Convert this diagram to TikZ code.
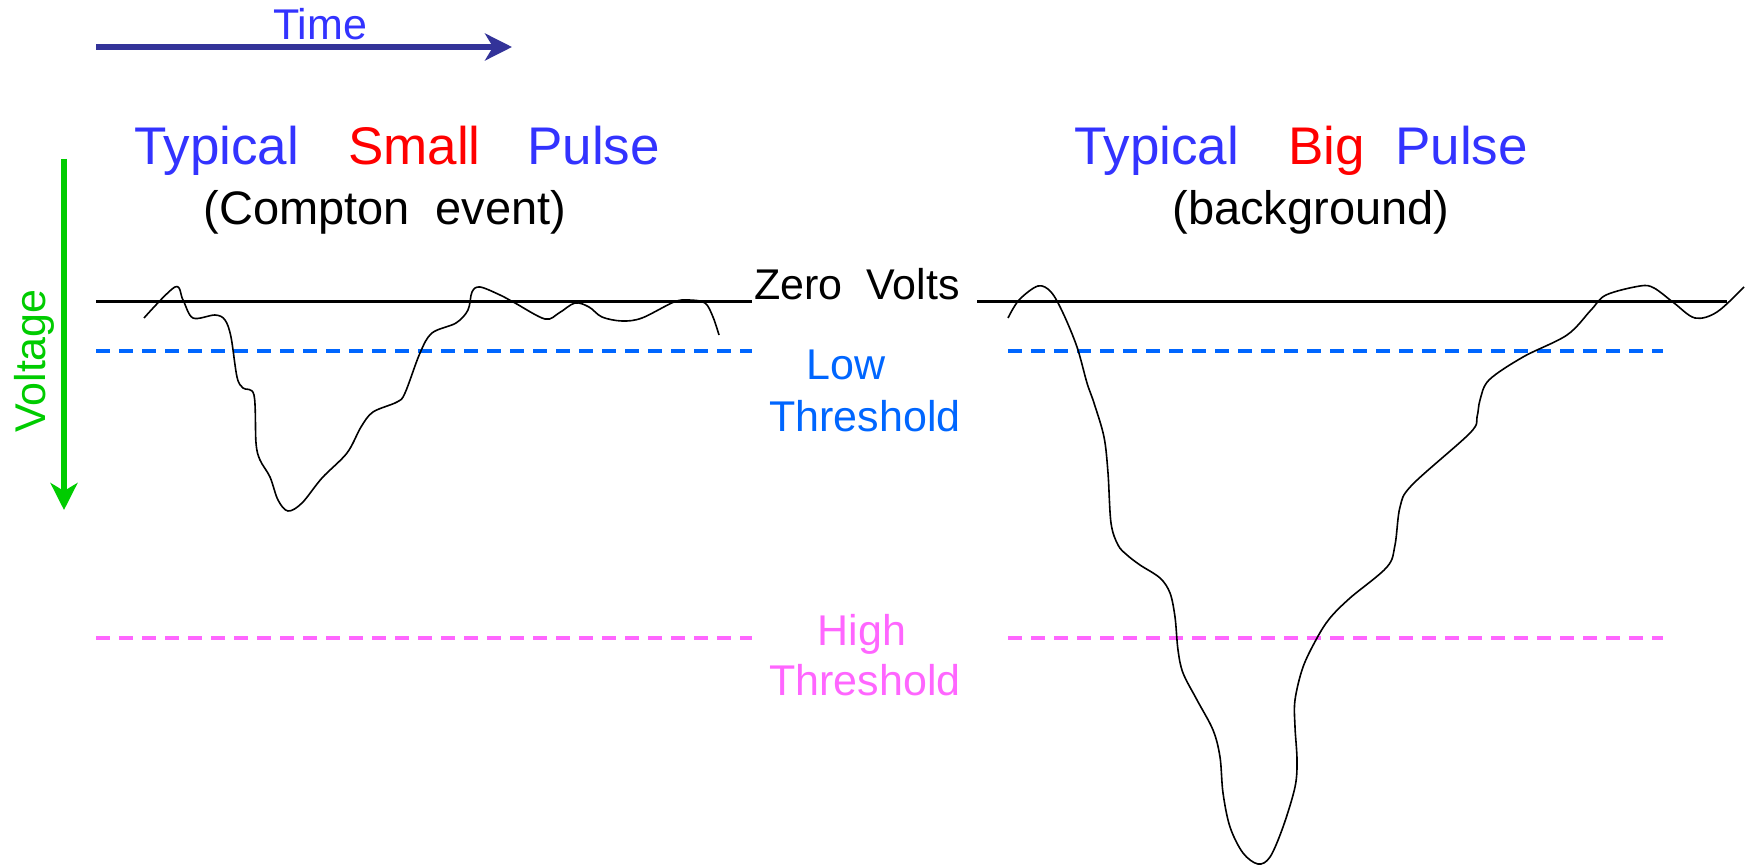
\documentclass[tikz,border=0pt]{standalone}
\usepackage{fontspec}
\setmainfont{Liberation Sans}
\usetikzlibrary{arrows.meta}

\definecolor{timeblue}{HTML}{333399}
\definecolor{textblue}{HTML}{3333FF}
\definecolor{titlered}{HTML}{FF0000}
\definecolor{voltgreen}{HTML}{00CC00}
\definecolor{lowblue}{HTML}{0066FF}
\definecolor{highpink}{HTML}{FF66FF}

\tikzset{
  title/.style={font=\fontsize{53}{60}\selectfont, inner sep=0pt, anchor=base west},
  subtitle/.style={font=\fontsize{47}{54}\selectfont, inner sep=0pt, anchor=base},
  label/.style={font=\fontsize{43}{50}\selectfont, inner sep=0pt},
  zeroline/.style={line width=3pt, black},
  threshold/.style={line width=4pt, dash pattern=on 14pt off 9pt},
  pulse/.style={line width=1.6pt, black, smooth, tension=0.55},
  axisarrow/.style={line width=6pt, -{Stealth[length=27pt, width=27pt, inset=8pt]}}
}

\begin{document}
\begin{tikzpicture}[x=1pt, y=-1pt]
\useasboundingbox (0,0) rectangle (1750,866);

% axes
\coordinate (t0) at (96,47);
\coordinate (t1) at (512,47);
\draw[axisarrow, timeblue] (t0) -- (t1);
\node[label, anchor=base, text=textblue] (time) at (320,40) {Time};

\coordinate (v0) at (64,159);
\coordinate (v1) at (64,510);
\draw[axisarrow, voltgreen] (v0) -- (v1);
\node[label, anchor=base, rotate=90, text=voltgreen] (voltage) at (45,361) {Voltage};

% titles
\node[title, text=textblue]  (tsl1) at (134,165) {Typical};
\node[title, text=titlered]  (tsl2) at (348,165) {Small};
\node[title, text=textblue]  (tsl3) at (527,165) {Pulse};
\node[subtitle] (ssl) at (385,225) {(Compton\ \ event)};

\node[title, text=textblue]  (tbg1) at (1074,165) {Typical};
\node[title, text=titlered]  (tbg2) at (1288,165) {Big};
\node[title, text=textblue]  (tbg3) at (1395,165) {Pulse};
\node[subtitle] (sbg) at (1311,225) {(background)};

% reference levels
\coordinate (zl0) at (96,302);   \coordinate (zl1) at (752,302);
\coordinate (zr0) at (977,302);  \coordinate (zr1) at (1727,302);
\coordinate (ll0) at (96,351);   \coordinate (ll1) at (752,351);
\coordinate (lr0) at (1008,351); \coordinate (lr1) at (1663,351);
\coordinate (hl0) at (96,638);   \coordinate (hl1) at (752,638);
\coordinate (hr0) at (1008,638); \coordinate (hr1) at (1663,638);

\draw[zeroline] (zl0) -- (zl1);
\draw[zeroline] (zr0) -- (zr1);
\draw[threshold, lowblue] (ll0) -- (ll1);
\draw[threshold, lowblue] (lr0) -- (lr1);
\draw[threshold, highpink] (hl0) -- (hl1);
\draw[threshold, highpink] (hr0) -- (hr1);

\node[label, anchor=base west] (zero) at (754,300) {Zero\ \ Volts};
\node[label, anchor=base, text=lowblue] (low1) at (846,379) {Low};
\node[label, anchor=base, text=lowblue] (low2) at (865,431) {Threshold};
\node[label, anchor=base, text=highpink] (high1) at (862,645) {High};
\node[label, anchor=base, text=highpink] (high2) at (865,695) {Threshold};

% small pulse
\draw[pulse] plot coordinates {
  (144,318) (175,287) (183,300) (193,318) (215,315) (225,320) (231,337)
  (237,377) (243,388) (254,395) (256,443) (260,460) (270,477) (278,500)
  (288,511) (302,503) (322,478) (347,453) (361,427) (373,412) (397,402)
  (405,393) (420,353) (432,333) (456,323) (468,310) (472,292) (480,287)
  (500,295) (515,303) (545,319) (559,313) (575,303) (589,307) (602,317)
  (622,321) (642,318) (674,302) (689,300) (705,303) (713,317) (719,335)};

% big pulse
\draw[pulse] plot coordinates {
  (1008,318) (1019,300) (1038,286) (1051,292) (1063,313) (1077,347)
  (1087,383) (1094,403) (1104,437) (1108,473) (1111,523) (1118,545)
  (1127,555) (1140,565) (1160,578) (1170,593) (1175,617) (1178,650)
  (1183,673) (1197,700) (1213,730) (1220,757) (1223,793) (1230,827)
  (1243,853) (1258,864) (1270,857) (1283,827) (1295,787) (1297,760)
  (1295,727) (1295,700) (1303,667) (1317,638) (1330,618) (1350,598)
  (1387,567) (1395,545) (1400,507) (1412,485) (1470,433) (1477,417)
  (1480,400) (1489,380) (1523,357) (1567,335) (1591,310) (1606,295)
  (1640,286) (1654,288) (1674,303) (1695,318) (1717,312) (1744,287)};
\end{tikzpicture}
\end{document}
